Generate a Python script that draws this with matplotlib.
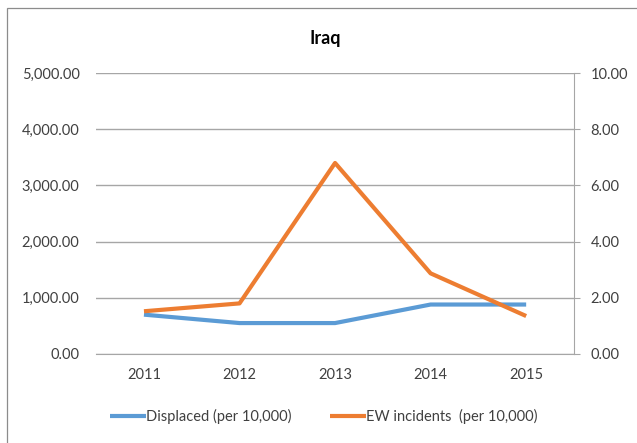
import matplotlib.pyplot as plt
from matplotlib.patches import Rectangle
from matplotlib.ticker import FuncFormatter

plt.rcParams['font.family'] = ['Lato', 'DejaVu Sans']

years = ['2011', '2012', '2013', '2014', '2015']
displaced = [700, 550, 550, 880, 880]
ew_incidents = [1.52, 1.80, 6.80, 2.87, 1.35]

BLUE = '#5B9BD5'
ORANGE = '#ED7D31'
GRID = '#A6A6A6'
TEXT = '#404040'

fig = plt.figure(figsize=(6.37, 4.43), dpi=100)
fig.patches.append(Rectangle((7 / 637, -0.05), 1.1, 1 - 8 / 443 + 0.05,
                             transform=fig.transFigure, fill=False,
                             edgecolor='#8C8C8C', linewidth=0.9))

ax = fig.add_axes([0.151, 0.201, 0.750, 0.634])
ax2 = ax.twinx()

x = range(len(years))
ax.plot(x, displaced, color=BLUE, linewidth=3, solid_capstyle='butt',
        label='Displaced (per 10,000)')
ax2.plot(x, ew_incidents, color=ORANGE, linewidth=3, solid_capstyle='butt',
         label='EW incidents  (per 10,000)')

ax.set_xlim(-0.5, len(years) - 0.5)
ax.set_ylim(0, 5000)
ax2.set_ylim(0, 10)
ax.set_yticks(range(0, 5001, 1000))
ax2.set_yticks(range(0, 11, 2))
ax.yaxis.set_major_formatter(FuncFormatter(lambda v, p: f'{v:,.2f}'))
ax2.yaxis.set_major_formatter(FuncFormatter(lambda v, p: f'{v:.2f}'))
ax.set_xticks(list(x))
ax.set_xticklabels(years)

ax.grid(axis='y', color=GRID, linewidth=1)
ax.set_axisbelow(True)

for a in (ax, ax2):
    for side in ('top', 'left', 'right', 'bottom'):
        a.spines[side].set_visible(False)
ax.spines['bottom'].set_visible(True)
ax.spines['bottom'].set_color(GRID)
ax2.spines['right'].set_visible(True)
ax2.spines['right'].set_color(GRID)

ax.tick_params(axis='y', length=0, pad=12, labelsize=10.5, labelcolor=TEXT)
ax.tick_params(axis='x', length=0, pad=10, labelsize=10.5, labelcolor=TEXT)
ax2.tick_params(axis='y', length=4, color=GRID, pad=8, labelsize=10.5,
                labelcolor=TEXT)

fig.text(0.511, 0.914, 'Iraq', ha='center', va='center', fontsize=13,
         fontweight='bold', color='black')

handles = ax.get_lines() + ax2.get_lines()
fig.legend(handles, [h.get_label() for h in handles], loc='center',
           bbox_to_anchor=(0.508, 0.059), ncol=2, frameon=False,
           fontsize=10.5, handlelength=2.5, handletextpad=0.0,
           columnspacing=2.6, labelcolor=TEXT)

fig.savefig('out.png', dpi=100)
